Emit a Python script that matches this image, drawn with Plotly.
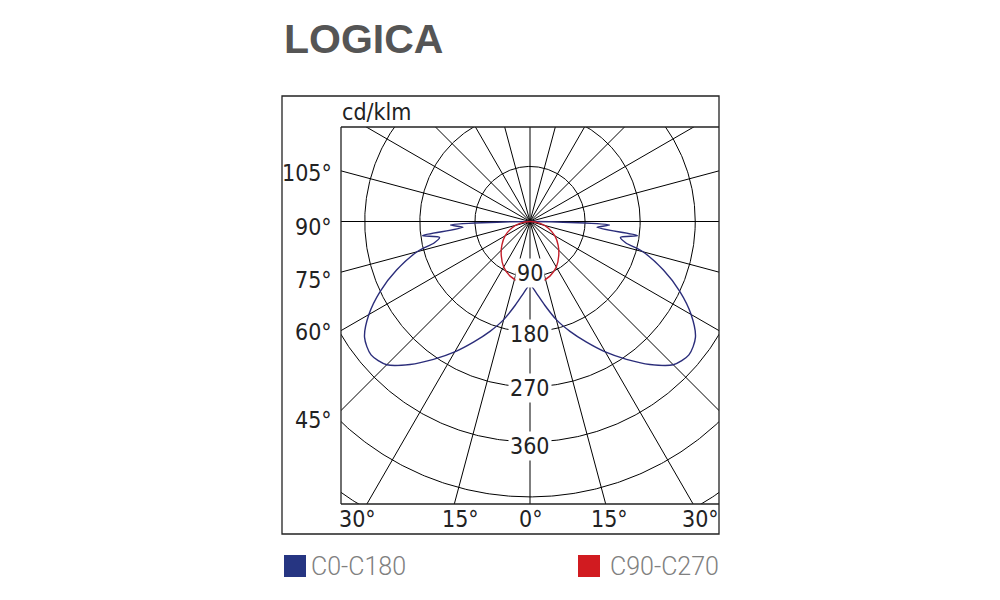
import numpy as np
import plotly.graph_objects as go

# ---------------- data ----------------
title_text = "LOGICA"
unit_label = "cd/klm"
series_names = ["C0-C180", "C90-C270"]
curve_colors = ["#2b2d7a", "#c41e2a"]
legend_colors = ["#263582", "#d11b20"]

# C0-C180 plane (gamma in degrees, intensity in cd/klm)
gamma_c0 = [0, 5, 10, 15, 20, 25, 30, 35, 40, 45, 50, 55, 60, 65, 70, 75, 77.5, 80, 82.5, 85, 87.5, 90]
cd_c0 = [104, 117, 139, 166, 191, 217, 246, 275, 305, 331, 339, 330, 304, 270, 232, 191, 160, 150, 177, 110, 130, 0]

# C90-C270 plane
gamma_c90 = [0, 10, 20, 30, 40, 50, 60, 70, 80, 90]
cd_c90 = [102, 100, 95, 86, 73, 60, 47, 32, 16, 0]

ring_values = [90, 180, 270, 360, 450, 540, 630]
ring_labels = ["90", "180", "270", "360"]
spoke_angles = list(range(0, 360, 15))
left_labels = ["105°", "90°", "75°", "60°", "45°"]
bottom_labels = ["30°", "15°", "0°", "15°", "30°"]

# ---------------- layout constants ----------------
W, H = 1000, 600
OFF = 8  # page offset of the figure
def px(x):
    return (x - OFF) / W
def py(y):
    return 1 - (y - OFF) / H

k = 0.612  # px per cd/klm
cx, cy = 530, 221.5
L, R, T, B = 341, 719, 127, 504
x_range = [(L - cx) / k, (R - cx) / k]
y_range = [-(B - cy) / k, (cy - T) / k]

fig = go.Figure()

# grid rings
th = np.linspace(0, 2 * np.pi, 721)
gx, gy = [], []
for r in ring_values:
    gx += list(r * np.cos(th)) + [None]
    gy += list(r * np.sin(th)) + [None]
fig.add_trace(go.Scatter(x=gx, y=gy, mode="lines", line=dict(color="#000000", width=1),
                         hoverinfo="skip", showlegend=False))

# spokes
sx, sy = [], []
Rl = 800
for a in spoke_angles:
    ar = np.deg2rad(a)
    sx += [0, Rl * np.sin(ar), None]
    sy += [0, -Rl * np.cos(ar), None]
fig.add_trace(go.Scatter(x=sx, y=sy, mode="lines", line=dict(color="#000000", width=1),
                         hoverinfo="skip", showlegend=False))


def plane_xy(gammas, vals):
    g = np.deg2rad(np.array(gammas, dtype=float))
    v = np.array(vals, dtype=float)
    xl = -(v * np.sin(g))[::-1]
    yl = -(v * np.cos(g))[::-1]
    xr = v * np.sin(g)
    yr = -(v * np.cos(g))
    return np.concatenate([xl, xr[1:]]), np.concatenate([yl, yr[1:]])

x0, y0 = plane_xy(gamma_c0, cd_c0)
fig.add_trace(go.Scatter(x=x0, y=y0, mode="lines", name=series_names[0],
                         line=dict(color=curve_colors[0], width=1.4, shape="spline", smoothing=0.8),
                         showlegend=False))
x9, y9 = plane_xy(gamma_c90, cd_c90)
fig.add_trace(go.Scatter(x=x9, y=y9, mode="lines", name=series_names[1],
                         line=dict(color=curve_colors[1], width=1.4, shape="spline"), showlegend=False))

fig.update_xaxes(range=x_range, domain=[px(L), px(R)], visible=False, fixedrange=True)
fig.update_yaxes(range=y_range, domain=[py(B), py(T)], visible=False, fixedrange=True)

cond_font = "Liberation Sans Narrow, DejaVu Sans Condensed, Roboto Condensed, Roboto, sans-serif"
lab_col = "#222222"
ann = []
ring_label_y = [273, 334, 388, 446]
for lab, yy in zip(ring_labels, ring_label_y):
    ann.append(dict(x=px(cx), y=py(yy), xref="paper", yref="paper", text=lab, showarrow=False,
                    xanchor="center", yanchor="middle",
                    font=dict(family=cond_font, size=23, color=lab_col),
                    bgcolor="white", borderpad=1))
left_y = [173, 227, 280, 332, 420]
for lab, yy in zip(left_labels, left_y):
    ann.append(dict(x=px(334), y=py(yy), xref="paper", yref="paper", text=lab, showarrow=False,
                    xanchor="right", yanchor="middle",
                    font=dict(family=cond_font, size=23, color=lab_col)))
bottom_x = [357, 460, 531, 609, 700]
for lab, xx in zip(bottom_labels, bottom_x):
    ann.append(dict(x=px(xx), y=py(519), xref="paper", yref="paper", text=lab, showarrow=False,
                    xanchor="center", yanchor="middle",
                    font=dict(family=cond_font, size=23, color=lab_col)))
ann.append(dict(x=px(340), y=py(112), xref="paper", yref="paper", text=unit_label, showarrow=False,
                xanchor="left", yanchor="middle",
                font=dict(family=cond_font, size=23, color=lab_col)))
ann.append(dict(x=px(282), y=py(39), xref="paper", yref="paper", text=title_text, showarrow=False,
                xanchor="left", yanchor="middle",
                font=dict(family="Liberation Sans, Arial, sans-serif", size=41, color="#555555", weight="bold")))
ann.append(dict(x=px(309), y=py(566), xref="paper", yref="paper", text=series_names[0], showarrow=False,
                xanchor="left", yanchor="middle",
                font=dict(family="Roboto, sans-serif", size=25, color="#808080", weight=300)))
ann.append(dict(x=px(721), y=py(566), xref="paper", yref="paper", text=series_names[1], showarrow=False,
                xanchor="right", yanchor="middle",
                font=dict(family="Roboto, sans-serif", size=25, color="#808080", weight=300)))

shapes = [
    dict(type="rect", xref="paper", yref="paper", x0=px(282), x1=px(719), y0=py(534), y1=py(96),
         line=dict(color="#222222", width=1.3)),
    dict(type="line", xref="paper", yref="paper", x0=px(L), x1=px(L), y0=py(B), y1=py(T),
         line=dict(color="#222222", width=1.3)),
    dict(type="line", xref="paper", yref="paper", x0=px(L), x1=px(R), y0=py(T), y1=py(T),
         line=dict(color="#222222", width=1.3)),
    dict(type="line", xref="paper", yref="paper", x0=px(L), x1=px(R), y0=py(B), y1=py(B),
         line=dict(color="#222222", width=1.3)),
    dict(type="rect", xref="paper", yref="paper", x0=px(284), x1=px(306), y0=py(577), y1=py(555),
         fillcolor=legend_colors[0], line=dict(width=0)),
    dict(type="rect", xref="paper", yref="paper", x0=px(578), x1=px(600), y0=py(577), y1=py(555),
         fillcolor=legend_colors[1], line=dict(width=0)),
]

fig.update_layout(width=W, height=H, margin=dict(l=0, r=0, t=0, b=0),
                  paper_bgcolor="white", plot_bgcolor="white",
                  annotations=ann, shapes=shapes, showlegend=False)

fig.write_html("out.html")
